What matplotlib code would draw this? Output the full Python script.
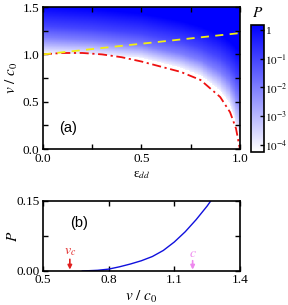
import numpy as np
import matplotlib
matplotlib.use("Agg")
import matplotlib.pyplot as plt
from matplotlib.colors import LinearSegmentedColormap, LogNorm
from matplotlib.ticker import MultipleLocator, FixedLocator

plt.rcParams['font.family'] = ['Liberation Serif', 'DejaVu Serif']
plt.rcParams['mathtext.fontset'] = 'stix'

# ---- panel (a) data ----
eps_vc = [0.0, 0.1, 0.2, 0.3, 0.4, 0.5, 0.6, 0.7, 0.8, 0.9, 0.95, 0.98, 1.0]
v_vc = [1.0, 1.015, 1.015, 1.0, 0.97, 0.925, 0.87, 0.815, 0.73, 0.55, 0.39, 0.22, 0.0]
eps_c = [0.0, 1.0]
v_c = [1.0, 1.225]

# contour positions of log10 P
eps_g = [0.0, 0.25, 0.5, 0.7, 0.8, 0.9, 0.95, 1.0]
logP_levels = [-4, -2, -1, 0]
v_m4 = [1.01, 1.00, 0.965, 0.86, 0.78, 0.62, 0.48, 0.12]
v_m2 = [1.18, 1.15, 1.10, 1.01, 0.94, 0.82, 0.72, 0.50]
v_m1 = [1.30, 1.27, 1.22, 1.14, 1.07, 0.97, 0.88, 0.72]
v_0 = [1.48, 1.45, 1.40, 1.32, 1.26, 1.17, 1.10, 0.98]

cbar_ticks = [1e-4, 1e-3, 1e-2, 1e-1, 1]
cbar_labels = [r'$10^{-4}$', r'$10^{-3}$', r'$10^{-2}$', r'$10^{-1}$', '1']

# ---- panel (b) data ----
v_b = [0.68, 0.75, 0.80, 0.85, 0.90, 0.95, 1.00, 1.05, 1.10, 1.15, 1.20, 1.25, 1.30]
P_b = [0.0, 0.0015, 0.004, 0.009, 0.015, 0.022, 0.031, 0.044, 0.062, 0.084, 0.110, 0.139, 0.172]
vc_mark = 0.623
c_mark = 1.184

fig = plt.figure(figsize=(2.88, 3.05), dpi=100)
ax1 = fig.add_axes([0.149, 0.511, 0.684, 0.466])
cax = fig.add_axes([0.872, 0.502, 0.045, 0.416])
ax2 = fig.add_axes([0.149, 0.1115, 0.684, 0.2295])

cmap = LinearSegmentedColormap.from_list('wb', ['#ffffff', '#0000ff'])
cmap.set_bad('white')
norm = LogNorm(vmin=10**-4.25, vmax=10**0.18)

# build field by interpolating the read contour positions
E = np.linspace(0, 1, 241)
V = np.linspace(0, 1.5, 361)
cols = [np.interp(E, eps_g, arr) for arr in (v_m4, v_m2, v_m1, v_0)]
Z = np.full((V.size, E.size), np.nan)
for j in range(E.size):
    vs = [c[j] for c in cols]
    lp = np.interp(V, vs, logP_levels, left=np.nan, right=0.18)
    ext = V > vs[-1]
    lp[ext] = np.minimum(0.18, (V[ext] - vs[-1]) / (vs[-1] - vs[-2]))
    Z[:, j] = lp
Zp = np.ma.masked_invalid(10.0 ** Z)
mesh = ax1.pcolormesh(E, V, Zp, cmap=cmap, norm=norm, shading='auto', rasterized=True)

ax1.plot(eps_vc, v_vc, color='#ee1111', lw=1.3, dashes=(5, 2, 1.2, 2))
ax1.plot(eps_c, v_c, color='#f2ee10', lw=1.3, dashes=(4.5, 3.5))
ax1.set_xlim(0, 1)
ax1.set_ylim(0, 1.5)
ax1.xaxis.set_major_locator(MultipleLocator(0.5))
ax1.xaxis.set_minor_locator(MultipleLocator(0.25))
ax1.yaxis.set_major_locator(MultipleLocator(0.5))
ax1.yaxis.set_minor_locator(MultipleLocator(0.25))
ax1.set_xlabel('ε$_{dd}$', fontsize=9.5, labelpad=3)
ax1.set_ylabel(r'$v\ /\ c_0$', fontsize=11)
ax1.yaxis.set_label_coords(-0.115, 0.5)
ax1.text(0.08, 0.1, '(a)', transform=ax1.transAxes, fontsize=10.5,
         family='Liberation Sans', va='bottom', ha='left')

for ax in (ax1, ax2):
    ax.tick_params(which='both', direction='in', top=True, right=True,
                   length=3.5, width=1, labelsize=9.5, pad=2.5)
    for s in ax.spines.values():
        s.set_linewidth(1.2)

cb = fig.colorbar(mesh, cax=cax)
cb.set_ticks(cbar_ticks)
cb.set_ticklabels(cbar_labels)
cb.ax.minorticks_off()
cb.ax.tick_params(direction='in', length=3, width=1, labelsize=8, pad=1)
cb.outline.set_linewidth(1.2)
cax.text(0.5, 1.04, r'$P$', transform=cax.transAxes, ha='center', va='bottom', fontsize=11)

# panel (b)
ax2.plot(v_b, P_b, color='#1010dd', lw=1.0)
ax2.set_xlim(0.5, 1.4)
ax2.set_ylim(0, 0.15)
ax2.xaxis.set_major_locator(FixedLocator([0.5, 0.8, 1.1, 1.4]))
ax2.yaxis.set_major_locator(FixedLocator([0.0, 0.15]))
ax2.yaxis.set_minor_locator(FixedLocator([0.075]))
ax2.set_yticklabels(['0.00', '0.15'])
ax2.set_xlabel(r'$v\ /\ c_0$', fontsize=11, labelpad=2)
ax2.set_ylabel(r'$P$', fontsize=11)
ax2.yaxis.set_label_coords(-0.115, 0.5)
ax2.text(0.14, 0.58, '(b)', transform=ax2.transAxes, fontsize=10.5,
         family='Liberation Sans', va='bottom', ha='left')
ax2.annotate('', xy=(vc_mark, 0.003), xytext=(vc_mark, 0.025),
             arrowprops=dict(arrowstyle='-|>', color='#e02020', lw=1.2,
                             mutation_scale=6, shrinkA=0, shrinkB=0))
ax2.text(vc_mark, 0.027, r'$v_c$', color='#e02020', ha='center', va='bottom', fontsize=10)
ax2.annotate('', xy=(c_mark, 0.003), xytext=(c_mark, 0.022),
             arrowprops=dict(arrowstyle='-|>', color='#ee88ee', lw=1.2,
                             mutation_scale=6, shrinkA=0, shrinkB=0))
ax2.text(c_mark, 0.024, r'$c$', color='#ee88ee', ha='center', va='bottom', fontsize=10)

fig.savefig('out.png', dpi=100)
